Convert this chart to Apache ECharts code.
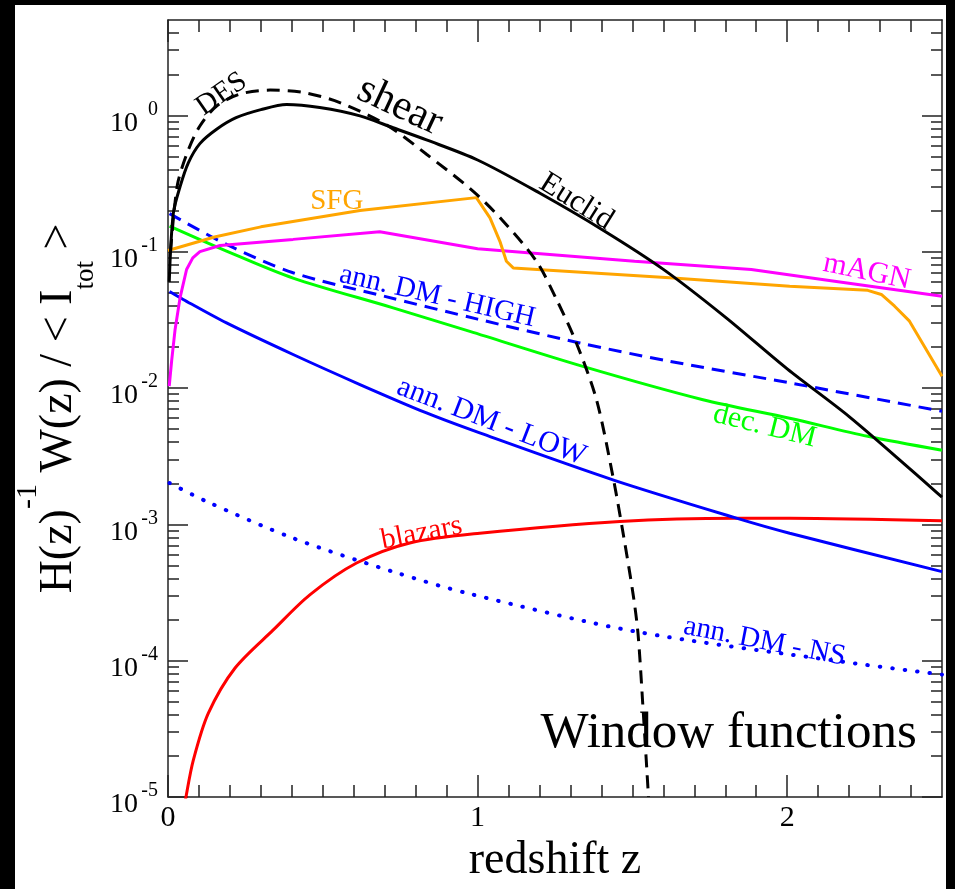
<!DOCTYPE html>
<html>
<head>
<meta charset="utf-8">
<title>Window functions</title>
<script src="https://cdn.jsdelivr.net/npm/echarts@6/dist/echarts.min.js"></script>
<style>
  html, body { margin: 0; padding: 0; background: #000; }
  #paper { position: absolute; left: 15px; top: 5px; width: 931px; height: 884px; background: #fff; }
  #chart { position: absolute; left: 0; top: 0; width: 955px; height: 889px; }
</style>
</head>
<body>
<div id="paper"></div>
<div id="chart"></div>
<script>
// tick labels
const xTicks = [0, 1, 2]
const yExps = [-5, -4, -3, -2, -1, 0]

// curves: redshift z and H^-1 W / <I_tot>
const zEuclid = [0.004, 0.017, 0.039, 0.066, 0.103, 0.157, 0.22, 0.3, 0.383, 0.49, 0.62, 0.727, 0.835, 1.0, 1.2, 1.4, 1.6, 1.8, 2.0, 2.2, 2.4, 2.5]
const wEuclid = [0.06, 0.19, 0.30, 0.45, 0.62, 0.79, 0.96, 1.1, 1.2, 1.14, 0.99, 0.81, 0.66, 0.47, 0.269, 0.146, 0.0741, 0.0331, 0.0138, 0.00617, 0.00251, 0.00158]

const zDES = [0.008, 0.02, 0.033, 0.066, 0.103, 0.157, 0.232, 0.33, 0.437, 0.555, 0.706, 0.835, 0.985, 1.082, 1.19, 1.255, 1.319, 1.384, 1.437, 1.47, 1.502, 1.518, 1.534, 1.552]
const wDES = [0.1, 0.2, 0.33, 0.56, 0.835, 1.17, 1.43, 1.53, 1.47, 1.24, 0.85, 0.518, 0.278, 0.168, 0.085, 0.0446, 0.0214, 0.0082, 0.00225, 8.6e-4, 3.1e-4, 1.59e-4, 4.6e-5, 1e-5]

const zSFG = [0, 0.15, 0.3, 0.62, 0.996, 1.04, 1.072, 1.093, 1.115, 1.62, 2.008, 2.26, 2.304, 2.347, 2.395, 2.5]
const wSFG = [0.102, 0.128, 0.152, 0.2, 0.249, 0.177, 0.119, 0.085, 0.076, 0.0643, 0.0558, 0.052, 0.0485, 0.0398, 0.0309, 0.0122]

const zAGN = [0.004, 0.012, 0.023, 0.039, 0.06, 0.08, 0.103, 0.168, 0.404, 0.684, 1.0, 1.507, 1.884, 2.153, 2.5]
const wAGN = [0.0103, 0.016, 0.027, 0.046, 0.074, 0.09, 0.1, 0.111, 0.123, 0.14, 0.105, 0.085, 0.074, 0.0607, 0.047]

const zHigh = [0.005, 0.189, 0.404, 0.7, 1.0, 1.33, 1.62, 2.008, 2.5]
const wHigh = [0.19, 0.113, 0.07, 0.047, 0.032, 0.0214, 0.0157, 0.0109, 0.00675]

const zDec = [0.005, 0.189, 0.404, 0.727, 0.975, 1.34, 1.728, 2.008, 2.26, 2.5]
const wDec = [0.154, 0.101, 0.064, 0.0387, 0.026, 0.0144, 0.0082, 0.006, 0.00442, 0.00349]

const zLow = [0.005, 0.049, 0.189, 0.404, 0.62, 0.835, 1.007, 1.437, 1.836, 2.008, 2.5]
const wLow = [0.051, 0.0446, 0.030, 0.0176, 0.0106, 0.00656, 0.00468, 0.00212, 0.00111, 8.6e-4, 4.5e-4]

const zNS = [0.005, 0.125, 0.405, 0.727, 0.975, 1.507, 2.175, 2.5]
const wNS = [0.00201, 0.00147, 7.9e-4, 4.49e-4, 3.09e-4, 1.64e-4, 9.85e-5, 7.9e-5]

const zBlazar = [0.052, 0.058, 0.082, 0.13, 0.216, 0.34, 0.458, 0.609, 0.781, 1.007, 1.459, 1.836, 2.008, 2.5]
const wBlazar = [8e-6, 1e-5, 1.87e-5, 4.1e-5, 8.8e-5, 1.68e-4, 3.04e-4, 5.2e-4, 7.3e-4, 8.6e-4, 1.05e-3, 1.11e-3, 1.11e-3, 1.06e-3]

// in-plot labels, anchored at (z, value)
const noteText = ['DES', 'shear', 'Euclid', 'SFG', 'mAGN', 'ann. DM - HIGH', 'dec. DM', 'ann. DM - LOW', 'blazars', 'ann. DM - NS', 'Window functions']
const noteZ = [0.173, 0.749, 1.319, 0.545, 2.257, 0.87, 1.927, 1.045, 0.819, 1.927, 1.811]
const noteW = [1.43, 1.16, 0.232, 0.235, 0.071, 0.0469, 0.00524, 0.00566, 8.6e-4, 1.38e-4, 2.9e-5]

const serif = '"Liberation Serif", "DejaVu Serif", serif'
const frame = '#222'
const noteStyle = [
  { color: '#000', size: 29, rot: 35 },
  { color: '#000', size: 42, rot: -25 },
  { color: '#000', size: 31, rot: -32 },
  { color: '#ffa500', size: 29, rot: 0 },
  { color: '#ff00ff', size: 30, rot: -12 },
  { color: '#0000ff', size: 29, rot: -13 },
  { color: '#00ff00', size: 30, rot: -14 },
  { color: '#0000ff', size: 30, rot: -21 },
  { color: '#ff0000', size: 29, rot: 11 },
  { color: '#0000ff', size: 29, rot: -11 },
  { color: '#000', size: 51, rot: 0 }
]

const yMax = Math.log10(5)
const yMinor = []
yExps.forEach(n => {
  for (let k = 2; k <= 9; k++) {
    const v = n + Math.log10(k)
    if (v < yMax - 1e-9) yMinor.push(v)
  }
})
const xMinor = []
for (let i = 1; i < 25; i++) {
  if (i % 10 !== 0) xMinor.push(i / 10)
}

const toPoints = (z, w) => z.map((x, i) => [x, Math.log10(w[i])])

const tickLine = { color: frame, width: 1.5 }

function xAx(grid, position, ticks, len, withLabel) {
  const ax = {
    gridIndex: grid,
    type: 'value',
    position,
    min: 0,
    max: 2.5,
    axisLine: { show: grid === 0, onZero: false, lineStyle: { color: frame, width: 1.5 } },
    axisTick: { inside: true, length: len, customValues: ticks, lineStyle: tickLine },
    axisLabel: { show: false },
    splitLine: { show: false }
  }
  if (withLabel) {
    ax.axisLabel = { show: true, customValues: xTicks, margin: 6, fontSize: 30, fontFamily: serif, color: '#000' }
    ax.name = 'redshift z'
    ax.nameLocation = 'middle'
    ax.nameGap = 33
    ax.nameTextStyle = { fontSize: 46, fontFamily: serif, color: '#000' }
  }
  return ax
}

function yAx(grid, position, ticks, len, withLabel) {
  const ax = {
    gridIndex: grid,
    type: 'value',
    position,
    min: -5,
    max: yMax,
    axisLine: { show: grid === 0, onZero: false, lineStyle: { color: frame, width: 1.5 } },
    axisTick: { inside: true, length: len, customValues: ticks, lineStyle: tickLine },
    axisLabel: { show: false },
    splitLine: { show: false }
  }
  if (withLabel) {
    ax.axisLabel = {
      show: true,
      customValues: yExps,
      margin: 10,
      formatter: v => '{b|10}{s|' + Math.round(v) + '}',
      rich: {
        b: { fontSize: 28, fontFamily: serif, color: '#000', lineHeight: 28, verticalAlign: 'bottom' },
        s: { fontSize: 20, fontFamily: serif, color: '#000', lineHeight: 44, height: 32, verticalAlign: 'top', width: 20, align: 'right' }
      }
    }
    ax.name = '{a|H(z)}{sup|-1}{a| W(z) / < I}{sub|tot}{a| >}'
    ax.nameLocation = 'middle'
    ax.nameRotate = 90
    ax.nameGap = 60
    ax.nameTextStyle = {
      rich: {
        a: { fontSize: 46, fontFamily: serif, color: '#000', lineHeight: 46 },
        sup: { fontSize: 30, fontFamily: serif, color: '#000', lineHeight: 90, height: 30, verticalAlign: 'top' },
        sub: { fontSize: 27, fontFamily: serif, color: '#000', height: 36, verticalAlign: 'bottom' }
      }
    }
  }
  return ax
}

function curve(name, z, w, color, type, extra) {
  return Object.assign({
    name,
    type: 'line',
    xAxisIndex: 0,
    yAxisIndex: 0,
    data: toPoints(z, w),
    showSymbol: false,
    symbol: 'none',
    clip: true,
    silent: true,
    lineStyle: { color, width: 3, type }
  }, extra || {})
}

const chart = echarts.init(document.getElementById('chart'))

chart.setOption({
  animation: false,
  backgroundColor: 'transparent',
  grid: [
    { left: 168, top: 20, width: 774, height: 777 },
    { left: 168, top: 20, width: 774, height: 777 }
  ],
  xAxis: [
    xAx(0, 'bottom', xTicks, 22, true),
    xAx(0, 'top', xTicks, 22, false),
    xAx(1, 'bottom', xMinor, 12, false),
    xAx(1, 'top', xMinor, 12, false)
  ],
  yAxis: [
    yAx(0, 'left', yExps, 20, true),
    yAx(0, 'right', yExps, 20, false),
    yAx(1, 'left', yMinor, 11, false),
    yAx(1, 'right', yMinor, 11, false)
  ],
  series: [
    curve('blazars', zBlazar, wBlazar, '#ff0000', 'solid', { smooth: 0.3 }),
    curve('ann. DM - NS', zNS, wNS, '#0000ff', [0.5, 12], { smooth: 0.3, lineStyle: { color: '#0000ff', width: 4, type: [0.5, 12], cap: 'round' } }),
    curve('ann. DM - LOW', zLow, wLow, '#0000ff', 'solid', { smooth: 0.3 }),
    curve('dec. DM', zDec, wDec, '#00ff00', 'solid', { smooth: 0.3 }),
    curve('ann. DM - HIGH', zHigh, wHigh, '#0000ff', [13, 8], { smooth: 0.3 }),
    curve('mAGN', zAGN, wAGN, '#ff00ff', 'solid'),
    curve('SFG', zSFG, wSFG, '#ffa500', 'solid'),
    curve('DES', zDES, wDES, '#000', [13, 8], { smooth: 0.3 }),
    curve('Euclid', zEuclid, wEuclid, '#000', 'solid', { smooth: 0.3 }),
    {
      name: 'notes',
      type: 'custom',
      xAxisIndex: 0,
      yAxisIndex: 0,
      silent: true,
      clip: false,
      data: noteText.map((t, i) => [noteZ[i], Math.log10(noteW[i]), i]),
      renderItem: (params, api) => {
        const i = api.value(2)
        const st = noteStyle[i]
        const p = api.coord([api.value(0), api.value(1)])
        return {
          type: 'text',
          x: p[0],
          y: p[1],
          rotation: st.rot * Math.PI / 180,
          style: {
            text: noteText[i],
            fill: st.color,
            font: st.size + 'px ' + serif,
            align: 'center',
            verticalAlign: 'middle'
          }
        }
      }
    }
  ]
})
</script>
</body>
</html>
